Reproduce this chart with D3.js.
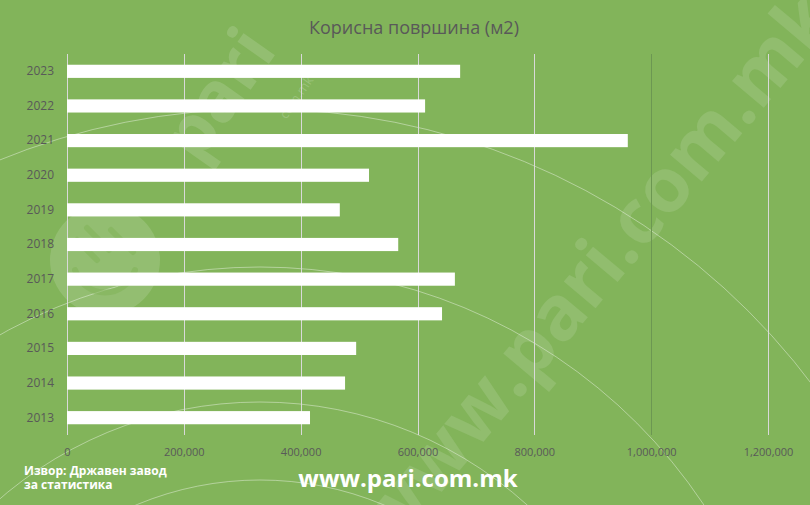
<!DOCTYPE html>
<html>
<head>
<meta charset="utf-8">
<script src="https://cdn.jsdelivr.net/npm/d3@7"></script>
<style>
  body { margin: 0; background: #82b45a; }
  svg text { font-family: "Open Sans", sans-serif; }
</style>
</head>
<body>
<div id="mainGraphic"></div>
<script>
let svgWidth = 810
let svgHeight = 505

// data
let years = ["2023", "2022", "2021", "2020", "2019", "2018", "2017", "2016", "2015", "2014", "2013"]
let area = [673000, 613000, 960000, 517000, 467000, 567000, 664000, 642000, 495000, 476000, 416000]
let xTicks = [0, 200000, 400000, 600000, 800000, 1000000, 1200000]
let darkTick = 1000000
let arcRadii = [691, 533, 398, 320]

renderChart();

function renderChart(){
  let data = years.map((y, i) => ({year: y, value: area[i]}))

  let graphic = d3.select("#mainGraphic")
    .append("svg")
      .attr("width", svgWidth)
      .attr("height", svgHeight)

  graphic.append("rect")
    .attr("width", svgWidth)
    .attr("height", svgHeight)
    .attr("fill", "#82b45a")

  // background watermark
  let wm = graphic.append("g").attr("class", "watermark")
  wm.selectAll("circle.arc")
    .data(arcRadii)
    .enter()
    .append("circle")
      .attr("class", "arc")
      .attr("cx", 260)
      .attr("cy", 800)
      .attr("r", d => d)
      .attr("fill", "none")
      .attr("stroke", "#ffffff")
      .attr("stroke-opacity", 0.4)
      .attr("stroke-width", 1)

  let logo = wm.append("g").attr("transform", "translate(105,260)")
  logo.append("circle")
    .attr("r", 55)
    .attr("fill", "#ffffff")
    .attr("fill-opacity", 0.14)
  logo.append("path")
    .attr("d", "M-28,-20 L-8,0 M-18,-32 L4,-10 M6,-30 L28,-8 M-30,10 C-20,40 20,40 30,10")
    .attr("fill", "none")
    .attr("stroke", "#82b45a")
    .attr("stroke-width", 6)
    .attr("stroke-linecap", "round")
    .attr("stroke-opacity", 0.6)

  wm.append("text")
    .attr("transform", "translate(238,108) rotate(-55)")
    .attr("text-anchor", "middle")
    .attr("font-size", 70)
    .attr("font-weight", "bold")
    .attr("fill", "#ffffff")
    .attr("fill-opacity", 0.14)
    .text("pari")
  wm.append("text")
    .attr("transform", "translate(300,100) rotate(-55)")
    .attr("text-anchor", "middle")
    .attr("font-size", 13)
    .attr("fill", "#ffffff")
    .attr("fill-opacity", 0.2)
    .text("com.mk")

  wm.append("text")
    .attr("transform", "translate(615,285) rotate(-50)")
    .attr("text-anchor", "middle")
    .attr("font-size", 76)
    .attr("font-weight", "bold")
    .attr("fill", "#ffffff")
    .attr("fill-opacity", 0.12)
    .text("www.pari.com.mk")

  // scales
  let xScale = d3.scaleLinear()
    .domain([0, 1200000])
    .range([67, 768])
  let yScale = d3.scaleBand()
    .domain(years)
    .range([54, 435])
    .paddingInner(0.62)
    .paddingOuter(0.31)

  // gridlines
  graphic.append("g")
    .selectAll("line")
    .data(xTicks)
    .enter()
    .append("line")
      .attr("x1", d => Math.round(xScale(d)) + 0.5)
      .attr("x2", d => Math.round(xScale(d)) + 0.5)
      .attr("y1", 54)
      .attr("y2", 435)
      .attr("stroke", d => d === darkTick ? "#6c9752" : "#d9d9d9")
      .attr("stroke-width", 1)

  // bars
  graphic.append("g")
    .selectAll("rect")
    .data(data)
    .enter()
    .append("rect")
      .attr("x", xScale(0))
      .attr("y", d => yScale(d.year))
      .attr("width", d => xScale(d.value) - xScale(0))
      .attr("height", yScale.bandwidth())
      .attr("fill", "#ffffff")

  // axes
  let xAxis = graphic.append("g")
    .attr("transform", "translate(0,435)")
    .call(d3.axisBottom(xScale).tickValues(xTicks).tickFormat(d3.format(",")).tickSize(0).tickPadding(13))
  xAxis.select(".domain").remove()
  xAxis.selectAll("text")
    .attr("font-size", 11)
    .attr("fill", "#595959")
    .attr("font-family", "Open Sans")

  let yAxis = graphic.append("g")
    .attr("transform", "translate(67,0)")
    .call(d3.axisLeft(yScale).tickSize(0).tickPadding(13))
  yAxis.select(".domain").remove()
  yAxis.selectAll("text")
    .attr("font-size", 12)
    .attr("fill", "#595959")
    .attr("font-family", "Open Sans")

  // texts
  graphic.append("text")
    .attr("x", 414)
    .attr("y", 34)
    .attr("text-anchor", "middle")
    .attr("font-size", 18)
    .attr("fill", "#595959")
    .text("Корисна површина (м2)")

  graphic.append("text")
    .attr("x", 24)
    .attr("y", 475)
    .attr("font-size", 12)
    .attr("font-weight", "bold")
    .attr("fill", "#ffffff")
    .text("Извор: Државен завод")
  graphic.append("text")
    .attr("x", 24)
    .attr("y", 489)
    .attr("font-size", 12)
    .attr("font-weight", "bold")
    .attr("fill", "#ffffff")
    .text("за статистика")

  graphic.append("text")
    .attr("x", 408)
    .attr("y", 487)
    .attr("text-anchor", "middle")
    .attr("font-size", 24)
    .attr("font-weight", "bold")
    .attr("fill", "#ffffff")
    .text("www.pari.com.mk")
}
</script>
</body>
</html>
